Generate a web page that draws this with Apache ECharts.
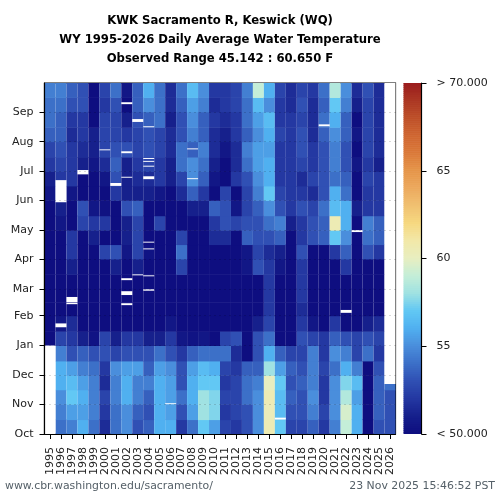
<!DOCTYPE html>
<html><head><meta charset="utf-8">
<style>html,body{margin:0;padding:0;background:#fff}#c{width:500px;height:500px}</style>
<script src="https://cdn.jsdelivr.net/npm/echarts@6/dist/echarts.min.js"></script>
</head><body><div id="c"></div>
<script>
const years = ["1995","1996","1997","1998","1999","2000","2001","2002","2003","2004","2005","2006","2007","2008","2009","2010","2011","2012","2013","2014","2015","2016","2017","2018","2019","2020","2021","2022","2023","2024","2025","2026"];
const monthNames = ["Oct","Nov","Dec","Jan","Feb","Mar","Apr","May","Jun","Jul","Aug","Sep"];
const monthStartDays = [0,31,61,92,123,151,182,212,243,273,304,335];
const halfMonthEdges = [0,15,31,46,61,76,92,107,123,137,151,166,182,197,212,227,243,258,273,288,304,319,335,350,365];
// half-month mean temperature: Oct-1, Oct-2, Nov-1 ... Sep-2
const t1995 = [null,null,null,null,null,null,49,49,49,49,49,49,49,49,49.5,50,50.5,51,52,52.5,53.5,54,54,54.5];
const t1996 = [54,54.5,55,56,56,54.5,52.5,50.5,49,49,49,49,49,49.5,50.5,51,52,52,52.5,53,53.5,53.5,54,54.5];
const t1997 = [54.5,55.5,57,56.5,55.5,53,52,51.5,49,49,49,51,52,52,49.5,50,50.5,52,52,52,51.5,52,53,53.5];
const t1998 = [56,55.5,56,55.5,54.5,53.5,51,49,49,49,49,49,49,49,52.5,53,49.5,49.5,51,51.5,52,52,53,53];
const t1999 = [54,54.5,54.5,54.5,54,53,50.3,49,49,49,49,49,49,51,52,50.5,49.5,49.5,50.5,51,51,49.5,50,49.5];
const t2000 = [51.5,52,52.5,51.5,52,53,52.5,49.5,49,49,49,49.5,52.5,50,52,50.2,50,50.5,51.5,52.5,52.5,52.5,52,52.5];
const t2001 = [54,54,54.5,54.5,55,52.5,51,49,49,49,49,51,53,49.5,49.5,49.5,52,53,53.5,53,52.5,52.5,53,54];
const t2002 = [55,55,56,56,55.5,53,52,50,49,49,49,50,50.5,51,51,53,51,51,51,53,52,51,50,50.5];
const t2003 = [53,53.5,54.5,54.5,55.5,53,52,49.5,49,49,49,51,52.5,52.5,52.5,53.5,51,51.5,52,52.5,52.5,53,53.5,53.5];
const t2004 = [53.5,53,53.5,54.5,53.5,53,51,49.5,49,49,49,49.5,50.3,50,50,50,51,51.5,52.5,53,53,53.5,55,56];
const t2005 = [56,56,56,56,55.5,54,51,49,49,49,49,49,49.5,49.3,52.5,50,50.5,52,52,52.5,52.5,54,54,54];
const t2006 = [56,55.5,55.5,55.5,55,53,52,50.5,49,49,49,49,49,49,49,49,49.5,51,51,51.5,51.5,51,51.5,51.5];
const t2007 = [52,53,54,53,53,52,50.5,49,49,49,49,52.5,54,52.5,50,50,51.5,52.5,54,54,53,53,53.5,54];
const t2008 = [54,55.5,56,56,55.5,53.5,50.3,49,49,49,49,49,49,49,50,51,53.5,55,55,53.5,54.5,55,55.5,56.5];
const t2009 = [57,58,58,57,56.5,54,50.5,49,49,49,49,49,49,49,50,51,52,53.5,54,54.5,53.5,53.5,54.5,55];
const t2010 = [55.5,57.5,57.5,57,56,54,49.5,49,49,49,49,49,49.5,51.5,52,53.5,50,50.5,51,51.5,51.5,52,51.5,52];
const t2011 = [52.5,52,52.5,52,52.5,54,52.5,49,49,49,49,49,49.5,51.5,53,53,52.5,49.5,49.5,50.5,51,51.5,52,52];
const t2012 = [52,52.5,52.5,52.5,52,51.5,53,50,49,49,49,49,49.5,49.5,52.5,50.5,50,52,51.5,51.5,52,52,52.5,52.5];
const t2013 = [53,53,54,54,53.5,49.5,49,49,49,49,49,50.5,50.5,53.5,53,52.5,52.5,53,54,54.5,53.5,54,54,54.5];
const t2014 = [55,55,55,54.5,53.5,53,53,51,49,49,50,53,52.5,53,53,53.5,54.5,55,55.5,55.5,55,55.5,56.5,59];
const t2015 = [60.5,60.3,60.5,60,58,56,54,52.5,52,52,52,52,51.5,53,54,55,57,56,56,55.5,56,56.5,55,56];
const t2016 = [57,56.5,56.5,57,55.5,53.5,49.5,49,49,49,49,50.5,51,53.5,54.5,53,52.5,52,52,52,52.5,52,52,52.5];
const t2017 = [52.5,53,53.5,53,53.5,52.5,49,49,49,49,49,49,49.5,49.5,51,52,52,52,52,52,52,52,51.5,51.5];
const t2018 = [52.5,53,53,53.5,53,52.5,53,52,51.5,52,52,52,53,52,52,53,52,51.5,52.5,53,53,52.5,53,52.5];
const t2019 = [53.5,54.5,55,54.5,54.5,54.5,52.5,50.5,49,49,49,50,50,53,53,52.5,51.5,52.5,52,52,51.5,51.5,51.5,52];
const t2020 = [52,52.5,52,52,52.5,52,52,50,49,49,49,49,50,53.5,53.5,54,53,53,53,53,53.5,54,53.5,54];
const t2021 = [54.5,55,55,55,54,55,53.5,52,49.5,49,49,50,52,57,60.5,56.5,56,54,54.5,54.5,55,56,57,58.5];
const t2022 = [59,59.5,58.5,57.5,56,54.5,53,49,49,49,49,52,53.5,55,56,56,54,53.5,53,53,53.5,53.5,54.5,55];
const t2023 = [56,56,55.5,56.5,54.5,52.5,52.5,49,49,49,49,49,49.5,49.5,49.5,51,50,50,50.5,49.8,50.5,50,51,51.5];
const t2024 = [50,49.5,49.5,49.5,49.5,54,53,51,49,49,49,50,53,54,54.5,52,52,52.5,52,52.5,52.5,52.5,52.5,53];
const t2025 = [53,53.5,53.5,53.5,53,52,52.5,51.5,49,49,49,50,52,53.5,53.5,52,52,52,51,51.5,51.5,51.5,51.5,51.5];
const t2026 = [53,53,53,54,null,null,null,null,null,null,null,null,null,null,null,null,null,null,null,null,null,null,null,null];
const seriesByYear = [t1995,t1996,t1997,t1998,t1999,t2000,t2001,t2002,t2003,t2004,t2005,t2006,t2007,t2008,t2009,t2010,t2011,t2012,t2013,t2014,t2015,t2016,t2017,t2018,t2019,t2020,t2021,t2022,t2023,t2024,t2025,t2026];
// missing-data stretches: [year index, first day, last day] counted from 1 Oct
const gaps = [[1,241,264],[1,111,115],[2,137,142.5],[2,135,136.5],[3,270,274.5],[5,295,296],[6,258,261],
[7,343,345],[7,292,294],[7,266.5,267.5],[7,160,162],[7,144.5,148.5],[7,134,136],[8,324.5,327.5],[8,165,166],
[9,319,320],[9,286,287],[9,283,284],[9,278,279],[9,265,268],[9,199,200],[9,192,193],[9,164,165],[9,149,150.5],
[11,31,32],[13,296,297],[13,265,266],[21,15,17],[25,320,322],[27,126,129],[28,210,212]];
const noDataTail = [[0,0,92],[31,52,365]];
const colorStops = ["#0e0e80","#0e0e80","#0e0e80","#0e0e80","#0e0e80","#0e0e80","#16208c","#2438a2","#3050b4","#3c70c8","#4a8edc","#50b0f0","#62c8f4","#a0e2e2","#c4eed8","#e8eec0","#f2e8a8","#f6d880","#f0c070","#eca85c","#e59448","#da7838","#cf6530","#bd4e28","#aa3522","#9a1b1e"];
const colorbarLevels = [];
for (let i = 0; i <= 175; i++) colorbarLevels.push(50 + i * 20 / 175);

const cells = [];
seriesByYear.forEach((vals, c) => vals.forEach((v, r) => {
  if (v !== null) cells.push([c, halfMonthEdges[r], c === 31 && r === 3 ? 52 : halfMonthEdges[r + 1], v]);
}));
const renderCell = (params, api) => {
  const p0 = api.coord([api.value(0), api.value(1)]);
  const p1 = api.coord([api.value(0), api.value(2)]);
  const w = api.size([1, 0])[0];
  return {type:'rect', shape:{x:p0[0]-w/2, y:p1[1], width:w, height:p0[1]-p1[1]+0.5},
    style:{fill: api.visual('color')}};
};
const renderGap = (params, api) => {
  const p0 = api.coord([api.value(0), api.value(1)]);
  const p1 = api.coord([api.value(0), api.value(2)]);
  const w = api.size([1, 0])[0];
  return {type:'rect', shape:{x:p0[0]-w/2, y:p1[1], width:w, height:p0[1]-p1[1]}, style:{fill:'#fff'}};
};
const font = 'DejaVu Sans';
const chart = echarts.init(document.getElementById('c'), null, {renderer:'canvas'});
chart.setOption({
  animation:false,
  backgroundColor:'#fff',
  title:[
    {text:'KWK Sacramento R, Keswick (WQ)\nWY 1995-2026 Daily Average Water Temperature\nObserved Range 45.142 : 60.650 F',
     left:215, top:6, textAlign:'center',
     textStyle:{fontFamily:font,fontWeight:'bold',fontSize:11.65,lineHeight:19,color:'#000'}},
    {text:'www.cbr.washington.edu/sacramento/', left:0, top:475.5, textStyle:{fontFamily:font,fontWeight:'normal',fontSize:10.9,color:'#556068'}},
    {text:'23 Nov 2025 15:46:52 PST', right:0, top:475.5, textStyle:{fontFamily:font,fontWeight:'normal',fontSize:10.9,color:'#556068'}}
  ],
  grid:[
    {left:44.5, top:83, width:351, height:351, show:true, borderColor:'#000', borderWidth:1.2, backgroundColor:'#fff', z:0},
    {left:403.5, top:83, width:18, height:351, show:false}
  ],
  xAxis:[
    {type:'category', gridIndex:0, data:years, boundaryGap:true, z:10,
     axisLine:{show:true,lineStyle:{color:'#000',width:1.2}},
     axisTick:{show:true,alignWithLabel:true,length:5,lineStyle:{color:'#000'}},
     axisLabel:{rotate:90,interval:0,fontFamily:font,fontSize:11,color:'#222',margin:13},
     splitLine:{show:false}},
    {type:'category', gridIndex:1, data:['c'], show:false}
  ],
  yAxis:[
    {type:'value', gridIndex:0, min:0, max:365, z:10,
     axisLine:{show:true,lineStyle:{color:'#000',width:1.2}},
     axisTick:{show:true,length:5,customValues:monthStartDays,lineStyle:{color:'#000'}},
     axisLabel:{customValues:monthStartDays,fontFamily:font,fontSize:11,color:'#222',margin:11,
       formatter:v=>monthNames[monthStartDays.indexOf(v)]},
     splitLine:{show:true,lineStyle:{type:[1,4],color:'rgba(0,0,0,0.3)',width:1}}},
    {type:'value', gridIndex:1, min:50, max:70, position:'right', z:10, offset:0,
     axisLine:{show:true,lineStyle:{color:'#000',width:1.2}},
     axisTick:{show:true,length:5,customValues:[50,55,60,65,70],lineStyle:{color:'#000'}},
     axisLabel:{customValues:[50,55,60,65,70],fontFamily:font,fontSize:11,color:'#222',margin:15,
       formatter:v=>v===50?'< 50.000':v===70?'> 70.000':String(v)},
     splitLine:{show:false}}
  ],
  visualMap:[{show:false,type:'continuous',min:45,max:70,seriesIndex:[0,2],dimension:3,inRange:{color:colorStops}}],
  series:[
    {type:'custom',xAxisIndex:0,yAxisIndex:0,data:cells,encode:{x:0,y:[1,2]},renderItem:renderCell,silent:true,z:2},
    {type:'custom',xAxisIndex:0,yAxisIndex:0,data:gaps.concat(noDataTail),encode:{x:0,y:[1,2]},renderItem:renderGap,silent:true,z:3},
    {type:'custom',xAxisIndex:1,yAxisIndex:1,data:colorbarLevels.map(v=>[0,v,v+20/175,v]),encode:{x:0,y:[1,2]},renderItem:(p,api)=>{
        const a=api.coord([0,api.value(1)]),b=api.coord([0,api.value(2)]),w=api.size([1,0])[0];
        return {type:'rect',shape:{x:a[0]-w/2,y:b[1],width:w,height:a[1]-b[1]+0.6},style:{fill:api.visual('color')}};
      },silent:true,z:2,clip:true}
  ]
});
</script></body></html>
